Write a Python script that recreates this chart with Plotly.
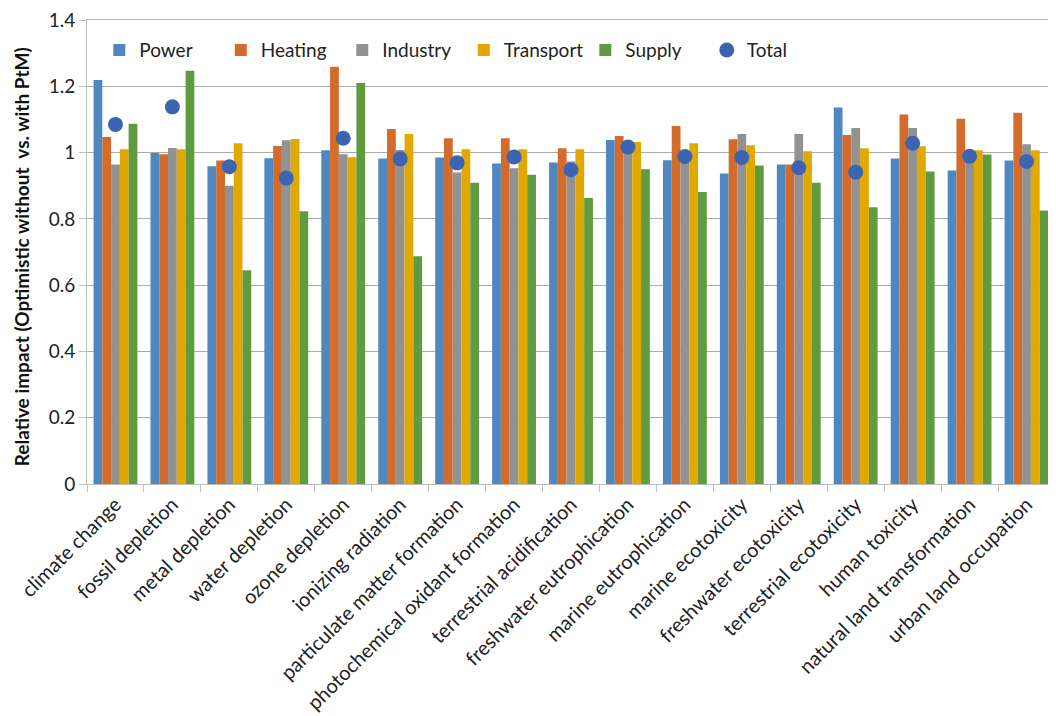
import plotly.graph_objects as go

categories = [
    "climate change", "fossil depletion", "metal depletion", "water depletion",
    "ozone depletion", "ionizing radiation", "particulate matter formation",
    "photochemical oxidant formation", "terrestrial acidification",
    "freshwater eutrophication", "marine eutrophication", "marine ecotoxicity",
    "freshwater ecotoxicity", "terrestrial ecotoxicity", "human toxicity",
    "natural land transformation", "urban land occupation",
]

power = [1.219, 0.999, 0.959, 0.983, 1.007, 0.982, 0.985, 0.967, 0.970,
         1.038, 0.977, 0.937, 0.964, 1.136, 0.982, 0.946, 0.976]
heating = [1.047, 0.995, 0.976, 1.020, 1.259, 1.071, 1.043, 1.043, 1.013,
           1.050, 1.080, 1.040, 0.964, 1.053, 1.115, 1.102, 1.120]
industry = [0.964, 1.014, 0.900, 1.037, 0.995, 1.008, 0.940, 0.953, 0.973,
            1.030, 0.980, 1.056, 1.056, 1.074, 1.074, 1.000, 1.025]
transport = [1.010, 1.010, 1.028, 1.041, 0.986, 1.056, 1.010, 1.010, 1.010,
             1.032, 1.028, 1.022, 1.004, 1.013, 1.019, 1.007, 1.007]
supply = [1.087, 1.247, 0.645, 0.823, 1.210, 0.687, 0.909, 0.933, 0.863,
          0.950, 0.881, 0.961, 0.909, 0.835, 0.943, 0.994, 0.825]
total = [1.085, 1.138, 0.957, 0.923, 1.043, 0.981, 0.969, 0.987, 0.948,
         1.017, 0.988, 0.985, 0.954, 0.941, 1.028, 0.989, 0.973]

y_ticks = [0, 0.2, 0.4, 0.6, 0.8, 1, 1.2, 1.4]
y_tick_labels = ["0", "0.2", "0.4", "0.6", "0.8", "1", "1.2", "1.4"]
y_title = "Relative impact (Optimistic without \u00a0vs. with PtM)"

series = [
    ("Power", power, "#4F88C1"),
    ("Heating", heating, "#D36C2B"),
    ("Industry", industry, "#929292"),
    ("Transport", transport, "#E1A900"),
    ("Supply", supply, "#619B40"),
]

FONT = "Lato, Open Sans, sans-serif"

fig = go.Figure()
for name, vals, col in series:
    fig.add_trace(go.Bar(
        x=categories, y=vals, name=name,
        marker=dict(color=col, line=dict(width=0)),
    ))

fig.add_trace(go.Scatter(
    x=categories, y=total, name="Total", mode="markers",
    marker=dict(color="#3D64B0", size=15, symbol="circle"),
))

fig.update_layout(
    width=1048, height=708,
    margin=dict(l=79, r=1, t=12, b=232, autoexpand=False),
    paper_bgcolor="white", plot_bgcolor="white",
    barmode="group", bargap=0.23, bargroupgap=0,
    font=dict(family=FONT, size=19, color="#222222"),
    legend=dict(
        orientation="h", x=0.0127, y=0.976, xanchor="left", yanchor="top",
        font=dict(family=FONT, size=19, color="#222222"),
        bgcolor="rgba(0,0,0,0)", itemwidth=30, tracegroupgap=0,
        entrywidth=76.5, entrywidthmode="pixels",
    ),
    showlegend=True,
    annotations=[dict(
        text="<b>" + y_title + "</b>", xref="paper", yref="paper",
        x=-0.0675, y=0.49, xanchor="center", yanchor="middle",
        textangle=-90, showarrow=False,
        font=dict(family=FONT, size=19, color="#111111"),
    )],
)

fig.update_xaxes(
    type="category", range=[-0.5, len(categories) - 0.5],
    tickangle=-45, tickson="boundaries",
    ticks="outside", ticklen=7, tickcolor="#BFBFBF",
    showline=True, linecolor="#BFBFBF", linewidth=1, mirror=True,
    showgrid=False, automargin=False,
    tickfont=dict(family=FONT, size=20, color="#222222"),
)

fig.update_yaxes(
    range=[0, 1.4], tickvals=y_ticks, ticktext=y_tick_labels,
    showgrid=True, gridcolor="#ABABAB", gridwidth=1.4,
    showline=True, linecolor="#BFBFBF", linewidth=1,
    ticks="outside", ticklen=7, tickcolor="#BFBFBF",
    tickfont=dict(family=FONT, size=19, color="#222222"),
    ticklabeloverflow="allow",
    zeroline=False, automargin=False,
)

fig.write_html("out.html")
